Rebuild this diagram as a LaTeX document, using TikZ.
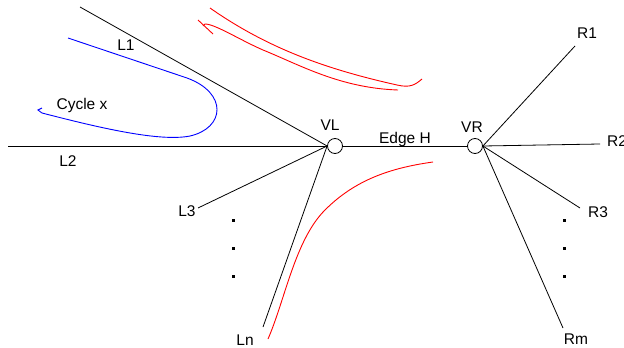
\documentclass[tikz,border=0pt]{standalone}
\usepackage{fontspec}
\setmainfont{Liberation Sans}
\usepackage{tikz}
\usetikzlibrary{positioning, calc}
\tikzset{
    vertex/.style={circle, draw=black, fill=white, line width=0.8pt, minimum size=15pt, inner sep=0pt},
    edgelabel/.style={anchor=base, inner sep=0pt, font=\fontsize{15.5}{18}\selectfont},
    spoke/.style={draw=black, line width=0.8pt},
    cyclepath/.style={draw=blue, line width=0.9pt},
    flowpath/.style={draw=red, line width=0.9pt},
}

\begin{document}
\begin{tikzpicture}[x=1pt, y=-1pt]
        \useasboundingbox (0,0) rectangle (624,348);

        % Nodes
        \node[vertex] (VL) at (335,146) {};
        \node[vertex] (VR) at (475,146) {};
        \node[edgelabel] (VLlab) at (330,130) {VL};
        \node[edgelabel] (VRlab) at (472,132) {VR};
        \node[edgelabel] (edgeH) at (405,143) {Edge H};

        \coordinate (l1) at (80,7);
        \coordinate (l2) at (8,146);
        \coordinate (l3) at (198,208);
        \coordinate (ln) at (263,327);
        \node[edgelabel] (L1) at (126,50) {L1};
        \node[edgelabel] (L2) at (68,166) {L2};
        \node[edgelabel] (L3) at (187,216) {L3};
        \node[edgelabel] (Ln) at (245,345) {Ln};

        \coordinate (r1) at (575,46);
        \coordinate (r2) at (600,144);
        \coordinate (r3) at (580,208);
        \coordinate (rm) at (563,328);
        \node[edgelabel] (R1) at (587,38) {R1};
        \node[edgelabel, anchor=base west] (R2) at (607,146) {R2};
        \node[edgelabel] (R3) at (598,217) {R3};
        \node[edgelabel] (Rm) at (576,344) {Rm};

        \node[edgelabel] (cyc) at (82,109) {Cycle x};

        % Connections
        \draw[spoke] (VL) -- (VR);
        \foreach \leaf in {l1, l2, l3, ln}
            \draw[spoke] (\leaf) -- (VL.west);
        \foreach \leaf in {r1, r2, r3, rm}
            \draw[spoke] (VR.east) -- (\leaf);

        % Dots
        \foreach \y in {220, 248, 276} {
            \fill (231.5,\y-1.5) rectangle ++(3,3);
            \fill (562.5,\y-1.5) rectangle ++(3,3);
        }

        % Cycle x
        \draw[cyclepath] (68,38) -- (187,78)
            .. controls (228,93) and (225,128) .. (190,136)
            .. controls (160,142) and (100,128) .. (42,113)
            -- (38,110) -- (42,108);

        % Red curves
        \draw[flowpath] (210,8) .. controls (270,50) and (330,70) .. (397,85)
            .. controls (410,88) and (415,85) .. (422,79);
        \draw[flowpath] (398,90) .. controls (340,88) and (300,65) .. (263,50)
            .. controls (240,40) and (215,24) .. (205,24) -- (203,26);
        \draw[flowpath] (198,20) -- (213,34);
        \draw[flowpath] (268,339) .. controls (285,300) and (295,240) .. (325,210)
            .. controls (355,180) and (390,168) .. (433,162);
    \end{tikzpicture}
\end{document}
